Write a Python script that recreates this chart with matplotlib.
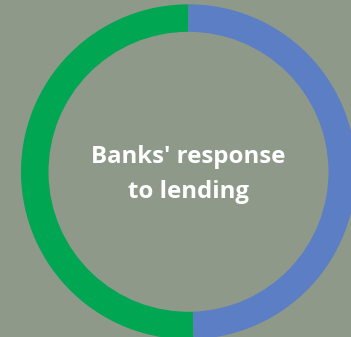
import matplotlib
matplotlib.use('Agg')
import matplotlib.pyplot as plt

# ring shares
labels = ['Green', 'Blue']
shares = [50.5, 49.5]
colors = ['#00a651', '#5b7ec4']
title_lines = ["Banks' response", "to lending"]

bg = '#8e998a'
W, H = 351, 337

fig = plt.figure(figsize=(W / 100, H / 100), dpi=100, facecolor=bg)
ax = fig.add_axes([0, 0, 1, 1])
ax.set_facecolor(bg)

cx, cy = 188.5, H - 171.8
ax.pie(shares, colors=colors, startangle=90, counterclock=True,
       radius=167.5, center=(cx, cy),
       wedgeprops=dict(width=27.5, linewidth=0))

ax.set_xlim(0, W)
ax.set_ylim(0, H)
ax.set_aspect('equal', adjustable='box')
ax.axis('off')

ax.text(cx, H - 163, title_lines[0], ha='center', va='baseline',
        color='white', fontsize=17.3, fontweight='bold', family='Open Sans')
ax.text(cx, H - 198, title_lines[1], ha='center', va='baseline',
        color='white', fontsize=17.3, fontweight='bold', family='Open Sans')

fig.savefig('out.png', dpi=100, facecolor=bg)
